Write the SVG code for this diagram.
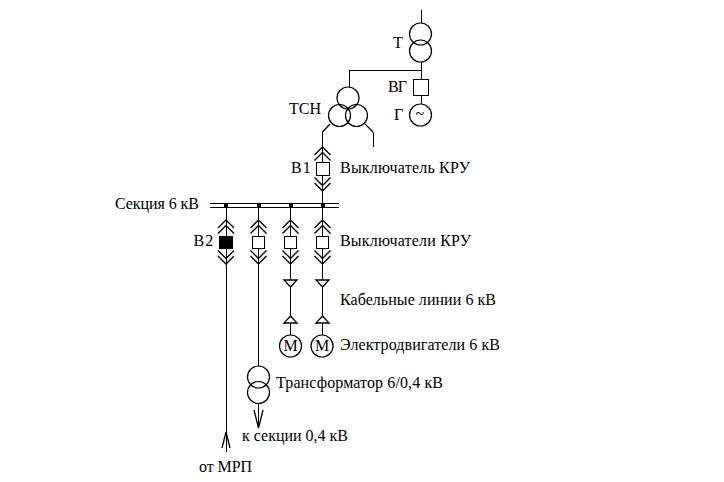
<svg xmlns="http://www.w3.org/2000/svg" width="724" height="482" viewBox="0 0 724 482">
<style>
text{font-family:"Liberation Serif","Times New Roman",serif;font-size:16px;fill:#000}
.l{fill:none;stroke:#000;stroke-width:1;shape-rendering:crispEdges}
.v{fill:none;stroke:#000;stroke-width:1.3}
.c{fill:#fff;stroke:#000;stroke-width:1;shape-rendering:crispEdges}
.n{fill:none;stroke:#000;stroke-width:1.2}
.d{fill:#000;shape-rendering:crispEdges}
.b{word-spacing:-3px}
</style>
<defs>
<path id="up" class="v" d="M-8 8L0 0L8 8M-8 13.500L0 5.500L8 13.500"/>
<path id="dn" class="v" d="M-8 -8L0 0L8 -8M-8 -13.500L0 -5.500L8 -13.500"/>
</defs>
<rect width="724" height="482" fill="#fff"/>
<g id="connectors">
<path class="l" d="M421.500 10V23M421.500 62V79M349.500 87V70.500H421.500M421.500 95V104M322.500 132V163M373.500 132.500V147"/>
<path class="v" d="M330 124L322.500 132M365 124L373.500 132.500"/>
<path class="l" d="M322.500 175V203M226 207V237M258.500 207V237M290.500 207V237M322.500 207V237M226 249V452M258.500 249V366M290.500 249V280M322.500 249V280M290.500 286V317M322.500 286V317M290.500 323V335M322.500 323V335M258.500 403V428"/>
<path class="l" d="M210 203.500H339M210 207.500H339"/>
</g>
<g id="node-t"><circle class="n" cx="420.500" cy="34" r="11"/><circle class="n" cx="420.500" cy="51" r="11"/><text x="393" y="48">Т</text></g>
<g id="node-vg"><rect class="c" x="413" y="79" width="15.500" height="16"/><text x="388" y="92" textLength="19">ВГ</text></g>
<g id="node-g"><circle class="n" cx="420.500" cy="115" r="11"/><text x="415.500" y="119">~</text><text x="394" y="120">Г</text></g>
<g id="node-tsn"><circle class="n" cx="348" cy="98" r="11"/><circle class="n" cx="339.500" cy="115.500" r="11"/><circle class="n" cx="356.500" cy="115.500" r="11"/><text x="289" y="114" textLength="32">ТСН</text></g>
<g id="node-v1"><use href="#up" x="322.500" y="147"/><use href="#dn" x="322.500" y="191"/><rect class="c" x="316.500" y="162.500" width="12.500" height="13"/><text class="b" x="291" y="173">В 1</text><text x="340" y="173" textLength="130">Выключатель КРУ</text></g>
<g id="node-bus"><rect class="d" x="224" y="203.500" width="4" height="4"/><rect class="d" x="256.500" y="203.500" width="4" height="4"/><rect class="d" x="288.500" y="203.500" width="4" height="4"/><rect class="d" x="320.500" y="203.500" width="4" height="4"/><text x="115" y="209" textLength="84">Секция 6 кВ</text></g>
<g id="node-v2"><use href="#up" x="226" y="220"/><use href="#dn" x="226" y="264"/><rect class="d" x="219" y="236" width="14" height="13"/><text class="b" x="193.500" y="246">В 2</text></g>
<g id="node-b2"><use href="#up" x="258.500" y="220"/><use href="#dn" x="258.500" y="264"/><rect class="c" x="252.500" y="236.500" width="12" height="12"/></g>
<g id="node-b3"><use href="#up" x="290.500" y="220"/><use href="#dn" x="290.500" y="264"/><rect class="c" x="284.500" y="236.500" width="12" height="12"/></g>
<g id="node-b4"><use href="#up" x="322.500" y="220"/><use href="#dn" x="322.500" y="264"/><rect class="c" x="316.500" y="236.500" width="12" height="12"/><text x="340" y="246" textLength="131">Выключатели КРУ</text></g>
<g id="node-cable"><path class="v" d="M284 280H297L290.500 287ZM316 280H329L322.500 287ZM284 323H297L290.500 316ZM316 323H329L322.500 316Z"/><text x="340" y="305" textLength="156">Кабельные линии 6 кВ</text></g>
<g id="node-m1"><circle class="n" cx="290.500" cy="346" r="11"/><text x="290.500" y="351" text-anchor="middle">М</text></g>
<g id="node-m2"><circle class="n" cx="322" cy="346" r="11"/><text x="322" y="351" text-anchor="middle">М</text><text x="340" y="350" textLength="160">Электродвигатели 6 кВ</text></g>
<g id="node-tr"><circle class="n" cx="258.500" cy="377" r="11"/><circle class="n" cx="258.500" cy="392.500" r="11"/><text x="276" y="388" textLength="167">Трансформатор 6/0,4 кВ</text></g>
<g id="node-s04"><path class="v" d="M254 410L258.500 428L263 410"/><text x="242" y="441" textLength="106">к секции 0,4 кВ</text></g>
<g id="node-mrp"><path class="v" d="M222 448L226 432L230 448"/><text x="199" y="472" textLength="53">от МРП</text></g>
</svg>
